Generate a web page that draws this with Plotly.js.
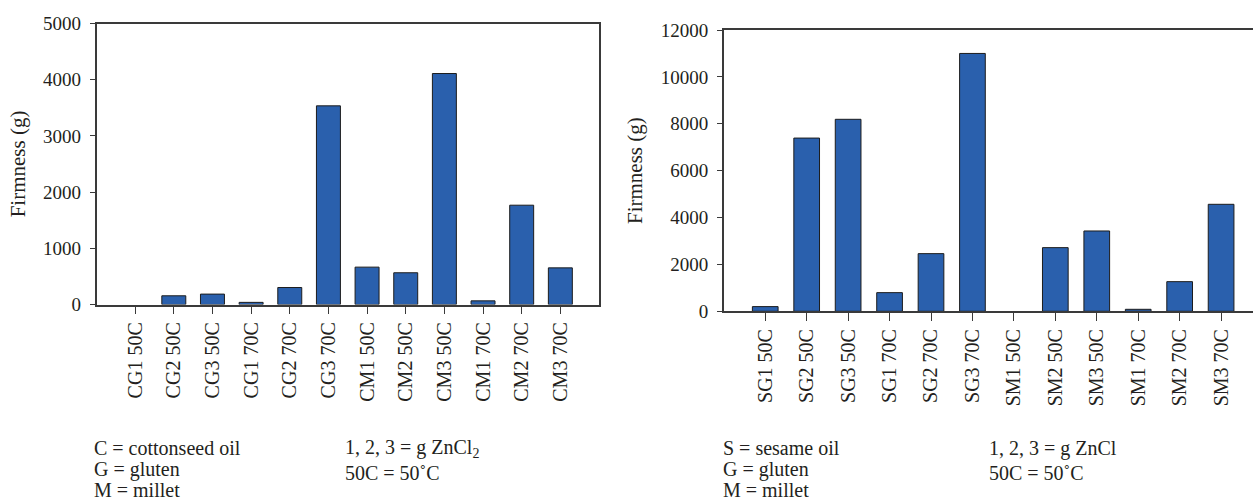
<!DOCTYPE html>
<html>
<head>
<meta charset="utf-8">
<script src="https://cdn.plot.ly/plotly-3.0.1.min.js"></script>
<style>
  html, body { margin: 0; padding: 0; background: #ffffff; }
  #chart { width: 1253px; height: 497px; }
</style>
</head>
<body>
<div id="chart"></div>
<script>
// Cottonseed-oil formulations (left panel)
const cottonCategories = ["CG1 50C", "CG2 50C", "CG3 50C", "CG1 70C", "CG2 70C", "CG3 70C",
                          "CM1 50C", "CM2 50C", "CM3 50C", "CM1 70C", "CM2 70C", "CM3 70C"];
const cottonFirmness = [0, 155, 185, 38, 302, 3535, 665, 565, 4110, 65, 1767, 652];

// Sesame-oil formulations (right panel)
const sesameCategories = ["SG1 50C", "SG2 50C", "SG3 50C", "SG1 70C", "SG2 70C", "SG3 70C",
                          "SM1 50C", "SM2 50C", "SM3 50C", "SM1 70C", "SM2 70C", "SM3 70C"];
const sesameFirmness = [200, 7390, 8190, 796, 2460, 11000, 0, 2716, 3427, 85, 1265, 4564];

// Key text under each panel
const cottonKey = ["C = cottonseed oil", "G = gluten", "M = millet"];
const sesameKey = ["S = sesame oil", "G = gluten", "M = millet"];
const cottonUnits = ["1, 2, 3 = g ZnCl<sub>2</sub>", "50C = 50˚C"];
const sesameUnits = ["1, 2, 3 = g ZnCl", "50C = 50˚C"];

const W = 1253, H = 497;
const FONT = "'Liberation Serif', 'DejaVu Serif', serif";
const INK = "#231f20";
const BAR = "#2a60ad";
const px = v => v / W;
const py = v => 1 - v / H;

// Bars with no measurable firmness get no outline, so nothing is drawn for them
function barTrace(cats, vals, xa, ya) {
  return {
    type: "bar", x: cats, y: vals, xaxis: xa, yaxis: ya,
    width: 0.62,
    marker: { color: BAR, line: { color: "#1c1c1c", width: vals.map(v => (v > 0 ? 1 : 0)) } },
    hoverinfo: "x+y",
    showlegend: false
  };
}

const traces = [
  barTrace(cottonCategories, cottonFirmness, "x", "y"),
  barTrace(sesameCategories, sesameFirmness, "x2", "y2")
];

function xAxis(domain, range, anchor, mirror) {
  return {
    domain: domain, anchor: anchor, type: "category", range: range,
    showline: true, linecolor: "#3a3a3a", linewidth: 1.5, mirror: mirror,
    ticks: "outside", ticklen: 8, tickwidth: 1.2, tickcolor: "#3a3a3a",
    tickangle: -90, showgrid: false, zeroline: false, fixedrange: true,
    tickfont: { family: FONT, size: 20, color: INK }
  };
}
function yAxis(domain, range, dtick, anchor, mirror) {
  return {
    domain: domain, anchor: anchor, range: range, dtick: dtick, tickformat: "d",
    showline: true, linecolor: "#3a3a3a", linewidth: 1.5, mirror: mirror,
    ticks: "outside", ticklen: 5, tickwidth: 1.2, tickcolor: "#3a3a3a",
    ticklabelstandoff: 5,
    showgrid: false, zeroline: false, fixedrange: true,
    tickfont: { family: FONT, size: 19, color: INK },
    title: { text: "Firmness (g)", font: { family: FONT, size: 21, color: INK }, standoff: 12 }
  };
}

const annotations = [];
function keyLine(text, x, yCenter) {
  annotations.push({
    xref: "paper", yref: "paper", x: px(x), y: py(yCenter),
    xanchor: "left", yanchor: "middle", showarrow: false, align: "left",
    text: text, font: { family: FONT, size: 20, color: INK }
  });
}
cottonKey.forEach((t, i) => keyLine(t, 92, 448 + i * 21));
sesameKey.forEach((t, i) => keyLine(t, 721, 448 + i * 21));
cottonUnits.forEach((t, i) => keyLine(t, 343, 448 + i * 25));
sesameUnits.forEach((t, i) => keyLine(t, 987, 448 + i * 25));

const layout = {
  width: W, height: H,
  margin: { l: 0, r: 0, t: 0, b: 0 },
  paper_bgcolor: "#ffffff", plot_bgcolor: "#ffffff",
  xaxis: xAxis([px(96.5), px(599)], [-1, 12], "y", true),
  yaxis: yAxis([py(304.5), py(23.5)], [0, 5000], 1000, "x", true),
  xaxis2: xAxis([px(723.8), 1], [-1, 11.77], "y2", true),
  yaxis2: yAxis([py(311.3), py(30)], [0, 12000], 2000, "x2", false),
  annotations: annotations
};

Plotly.newPlot("chart", traces, layout, { displayModeBar: false, responsive: false });
</script>
</body>
</html>
